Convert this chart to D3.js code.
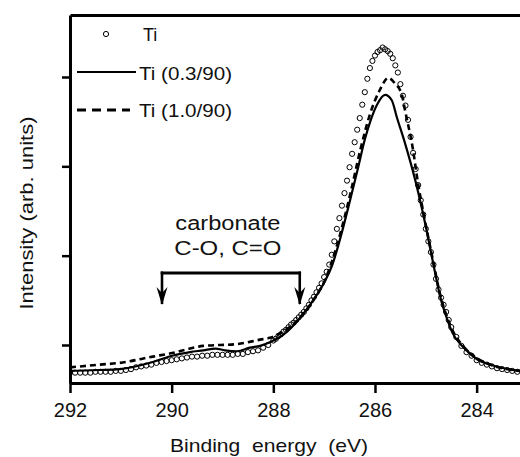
<!DOCTYPE html>
<html lang="en">
<head>
<meta charset="UTF-8">
<title>C 1s spectra</title>
<script src="https://cdn.jsdelivr.net/npm/d3@7"></script>
<style>
  body { margin: 0; background: #fff; }
  svg { display: block; font-family: "Liberation Sans", Arial, sans-serif; }
</style>
</head>
<body>
<div id="chart"></div>
<script>
// binding energy (eV) / intensity (arb. units)
var tiEnergy = [292.0, 291.9, 291.8, 291.7, 291.6, 291.5, 291.4, 291.3, 291.2, 291.1,
    291.0, 290.9, 290.8, 290.7, 290.6, 290.5, 290.4, 290.3, 290.2, 290.1,
    290.0, 289.9, 289.8, 289.7, 289.6, 289.5, 289.4, 289.3, 289.2, 289.1,
    289.0, 288.9, 288.8, 288.7, 288.6, 288.5, 288.4, 288.3, 288.2, 288.1,
    288.0, 287.95, 287.9, 287.85, 287.8, 287.75, 287.7, 287.65, 287.6, 287.55,
    287.5, 287.45, 287.4, 287.35, 287.3, 287.25, 287.2, 287.15, 287.1, 287.05,
    287.0, 286.95, 286.9, 286.85, 286.8, 286.75, 286.7, 286.65, 286.6, 286.55,
    286.5, 286.45, 286.4, 286.35, 286.3, 286.25, 286.2, 286.15, 286.1, 286.05,
    286.0, 285.95, 285.9, 285.85, 285.8, 285.75, 285.7, 285.65, 285.6, 285.55,
    285.5, 285.45, 285.4, 285.35, 285.3, 285.25, 285.2, 285.15, 285.1, 285.05,
    285.0, 284.95, 284.9, 284.85, 284.8, 284.75, 284.7, 284.65, 284.6, 284.55,
    284.5, 284.4, 284.3, 284.2, 284.1, 284.0, 283.9, 283.8, 283.7, 283.6,
    283.5, 283.4, 283.3, 283.2];
var tiIntensity = [0.69, 0.69, 0.69, 0.69, 0.69, 0.70, 0.70, 0.70, 0.70, 0.71,
    0.71, 0.72, 0.73, 0.75, 0.76, 0.77, 0.78, 0.80, 0.81, 0.82,
    0.83, 0.84, 0.85, 0.86, 0.87, 0.87, 0.88, 0.88, 0.89, 0.89,
    0.89, 0.89, 0.89, 0.90, 0.90, 0.92, 0.93, 0.94, 0.97, 1.00,
    1.05, 1.07, 1.10, 1.12, 1.15, 1.17, 1.20, 1.23, 1.25, 1.28,
    1.31, 1.34, 1.37, 1.41, 1.45, 1.50, 1.54, 1.59, 1.64, 1.69,
    1.76, 1.82, 1.90, 2.01, 2.16, 2.30, 2.42, 2.56, 2.70, 2.84,
    2.99, 3.14, 3.27, 3.41, 3.54, 3.69, 3.83, 3.98, 4.10, 4.18,
    4.24, 4.28, 4.30, 4.33, 4.31, 4.29, 4.26, 4.21, 4.13, 4.05,
    3.92, 3.79, 3.68, 3.52, 3.33, 3.15, 2.97, 2.79, 2.62, 2.46,
    2.30, 2.16, 2.04, 1.90, 1.74, 1.62, 1.53, 1.45, 1.37, 1.28,
    1.20, 1.09, 0.99, 0.92, 0.88, 0.83, 0.80, 0.78, 0.76, 0.74,
    0.73, 0.72, 0.71, 0.70];

var solidEnergy = [292.0, 291.41, 291.02, 290.37, 289.99, 289.64, 289.38, 289.14, 288.95, 288.71,
    288.46, 288.26, 288.07, 287.77, 287.48, 287.18, 286.98, 286.85, 286.69, 286.49,
    286.33, 286.2, 286.1, 285.96, 285.8, 285.67, 285.57, 285.41, 285.21, 285.02,
    284.86, 284.72, 284.58, 284.47, 284.27, 283.99, 283.68, 283.15];
var solidIntensity = [0.71, 0.72, 0.73, 0.81, 0.88, 0.92, 0.94, 0.96, 0.94, 0.93,
    0.97, 0.99, 1.03, 1.13, 1.30, 1.53, 1.72, 1.88, 2.18, 2.62,
    2.99, 3.30, 3.49, 3.69, 3.80, 3.74, 3.55, 3.26, 2.85, 2.38,
    1.93, 1.55, 1.29, 1.13, 0.98, 0.84, 0.77, 0.71];

var dashEnergy = [292.0, 291.41, 291.02, 290.37, 289.99, 289.64, 289.38, 288.71, 288.26, 288.07,
    287.81, 287.48, 287.18, 286.98, 286.85, 286.69, 286.49, 286.29, 286.1, 285.9,
    285.74, 285.61, 285.47, 285.41, 285.25, 285.17, 285.02, 284.86, 284.72, 284.58,
    284.47, 284.27, 283.99, 283.68, 283.15];
var dashIntensity = [0.75, 0.78, 0.80, 0.87, 0.91, 0.96, 0.99, 1.01, 1.06, 1.08,
    1.15, 1.30, 1.53, 1.73, 1.93, 2.23, 2.68, 3.18, 3.58, 3.86,
    3.99, 3.93, 3.80, 3.63, 3.18, 2.87, 2.40, 1.95, 1.57, 1.31,
    1.16, 0.99, 0.85, 0.77, 0.71];

var seriesNames = ["Ti", "Ti (0.3/90)", "Ti (1.0/90)"];
var xTicks = [292, 290, 288, 286, 284];
var yTicks = [1, 2, 3, 4];
var noteLines = ["carbonate", "C-O, C=O"];
var noteEnergy = [290.19, 287.48];   // arrow positions
var noteLevel = [1.806, 1.414];      // bracket height, arrow tips

var width = 520, height = 457;

var svg = d3.select("#chart").append("svg")
    .attr("width", width)
    .attr("height", height);

var x = d3.scaleLinear().domain([292, 283.147]).range([70, 520]);
var y = d3.scaleLinear().domain([0.5746, 4.694]).range([383, 15]);

svg.append("clipPath").attr("id", "plot")
    .append("rect").attr("x", 70).attr("y", 15).attr("width", 450).attr("height", 368);

function pairs(ex, ey) {
    return ex.map(function (e, i) { return [e, ey[i]]; });
}

var line = d3.line()
    .x(function (d) { return x(d[0]); })
    .y(function (d) { return y(d[1]); })
    .curve(d3.curveMonotoneX);

var plot = svg.append("g").attr("clip-path", "url(#plot)");

plot.append("path")
    .datum(pairs(solidEnergy, solidIntensity))
    .attr("d", line)
    .attr("fill", "none")
    .attr("stroke", "#000")
    .attr("stroke-width", 2.2);

plot.append("path")
    .datum(pairs(dashEnergy, dashIntensity))
    .attr("d", line)
    .attr("fill", "none")
    .attr("stroke", "#000")
    .attr("stroke-width", 2.6)
    .attr("stroke-dasharray", "6,4");

plot.selectAll("circle.ti")
    .data(pairs(tiEnergy, tiIntensity))
    .enter().append("circle")
    .attr("class", "ti")
    .attr("cx", function (d) { return x(d[0]); })
    .attr("cy", function (d) { return y(d[1]); })
    .attr("r", 2.6)
    .attr("fill", "none")
    .attr("stroke", "#000")
    .attr("stroke-width", 1);

// axes
var xAxis = svg.append("g")
    .attr("transform", "translate(0,383)")
    .call(d3.axisBottom(x).tickValues(xTicks).tickSize(10).tickSizeOuter(0)
        .tickPadding(10).tickFormat(d3.format("d")));

var yAxis = svg.append("g")
    .attr("transform", "translate(70,0)")
    .call(d3.axisLeft(y).tickValues(yTicks).tickSize(8).tickSizeOuter(0).tickFormat(""));

var topAxis = svg.append("g")
    .attr("transform", "translate(0,15)")
    .call(d3.axisTop(x).tickValues([]).tickSizeOuter(0));

[xAxis, yAxis, topAxis].forEach(function (g) {
    g.select(".domain").attr("stroke", "#000").attr("stroke-width", 3);
    g.selectAll(".tick line").attr("stroke", "#000").attr("stroke-width", 2.5);
});
xAxis.selectAll(".tick text")
    .attr("fill", "#111")
    .style("font-size", "20px")
    .style("font-family", "'Liberation Sans', Arial, sans-serif");

svg.append("text")
    .attr("x", 269)
    .attr("y", 452)
    .attr("text-anchor", "middle")
    .attr("font-size", 19)
    .attr("fill", "#111")
    .attr("textLength", 198)
    .attr("lengthAdjust", "spacingAndGlyphs")
    .style("white-space", "pre")
    .text("Binding  energy  (eV)");

svg.append("text")
    .attr("transform", "translate(33,213) rotate(-90)")
    .attr("text-anchor", "middle")
    .attr("font-size", 19)
    .attr("fill", "#111")
    .attr("textLength", 193)
    .attr("lengthAdjust", "spacingAndGlyphs")
    .text("Intensity (arb. units)");

// legend
var legend = svg.append("g");
legend.append("circle")
    .attr("cx", 106).attr("cy", 34).attr("r", 2.6)
    .attr("fill", "none").attr("stroke", "#000").attr("stroke-width", 1);
legend.append("line")
    .attr("x1", 77).attr("x2", 136).attr("y1", 72).attr("y2", 72)
    .attr("stroke", "#000").attr("stroke-width", 2.2);
legend.append("line")
    .attr("x1", 77).attr("x2", 130).attr("y1", 110).attr("y2", 110)
    .attr("stroke", "#000").attr("stroke-width", 2.8)
    .attr("stroke-dasharray", "9,6");

var legendY = [41, 79.5, 117];
legend.selectAll("text")
    .data(seriesNames)
    .enter().append("text")
    .attr("x", function (d, i) { return i === 0 ? 143 : 139; })
    .attr("y", function (d, i) { return legendY[i]; })
    .attr("font-size", 18)
    .attr("fill", "#111")
    .each(function (d, i) {
        if (i > 0) d3.select(this).attr("textLength", 93).attr("lengthAdjust", "spacingAndGlyphs");
    })
    .text(function (d) { return d; });

// carbonate annotation
svg.append("defs").append("marker")
    .attr("id", "arrow")
    .attr("viewBox", "0 -6 18 12")
    .attr("refX", 17)
    .attr("refY", 0)
    .attr("markerWidth", 18)
    .attr("markerHeight", 12)
    .attr("markerUnits", "userSpaceOnUse")
    .attr("orient", "auto")
    .append("path")
    .attr("d", "M0,-5.5L18,0L0,5.5L6,0Z")
    .attr("fill", "#000");

var note = svg.append("g");
note.append("path")
    .attr("d", d3.line()([[x(noteEnergy[0]) - 1.3, y(noteLevel[0])], [x(noteEnergy[1]) + 1.3, y(noteLevel[0])]]))
    .attr("stroke", "#000").attr("stroke-width", 3).attr("fill", "none");
noteEnergy.forEach(function (e) {
    note.append("line")
        .attr("x1", x(e)).attr("x2", x(e))
        .attr("y1", y(noteLevel[0]) - 1.5).attr("y2", y(noteLevel[1]) - 4)
        .attr("stroke", "#000").attr("stroke-width", 2.6)
        .attr("marker-end", "url(#arrow)");
});
var noteX = x((noteEnergy[0] + noteEnergy[1]) / 2) - 3;
note.selectAll("text")
    .data(noteLines)
    .enter().append("text")
    .attr("x", noteX)
    .attr("y", function (d, i) { return y(noteLevel[0]) - 43 + i * 25; })
    .attr("text-anchor", "middle")
    .attr("font-size", 20)
    .attr("fill", "#111")
    .attr("textLength", function (d, i) { return i === 0 ? 105 : 107; })
    .attr("lengthAdjust", "spacingAndGlyphs")
    .text(function (d) { return d; });
</script>
</body>
</html>
